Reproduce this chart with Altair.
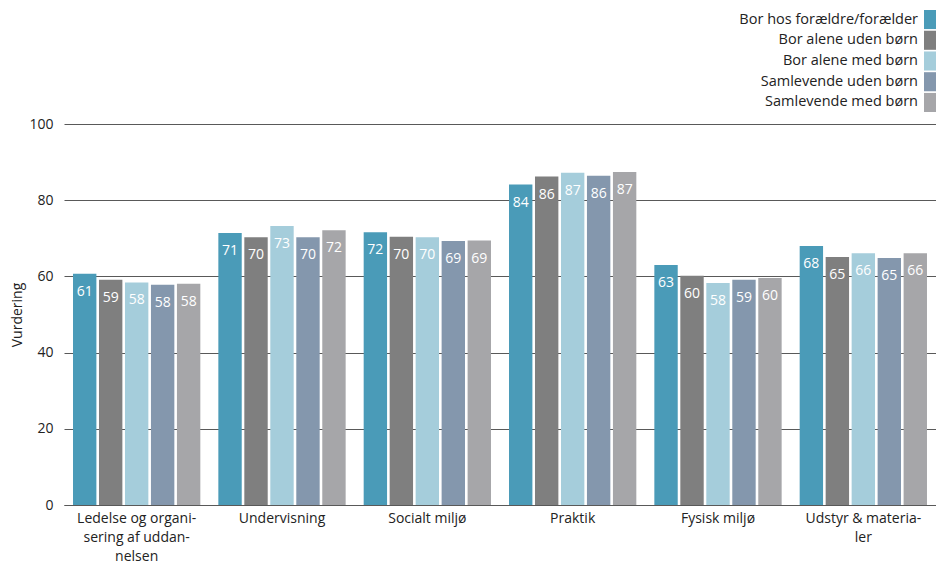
import json
import altair as alt
import pandas as pd

categories = ["Ledelse og organisering af uddannelsen", "Undervisning", "Socialt miljø",
              "Praktik", "Fysisk miljø", "Udstyr & materialer"]
series = ["Bor hos forældre/forælder", "Bor alene uden børn", "Bor alene med børn",
          "Samlevende uden børn", "Samlevende med børn"]
colors = ["#4a9bb8", "#7f7f7f", "#a5cddb", "#8497ad", "#a6a6a9"]

v_foraeldre = [60.7, 71.4, 71.6, 84.1, 63.0, 68.0]
v_alene_uden = [59.1, 70.3, 70.4, 86.2, 60.2, 65.1]
v_alene_med = [58.4, 73.2, 70.3, 87.2, 58.3, 66.1]
v_saml_uden = [57.8, 70.3, 69.3, 86.4, 59.1, 64.8]
v_saml_med = [58.1, 72.1, 69.4, 87.4, 59.6, 66.1]

wrapped = {
    "Ledelse og organisering af uddannelsen": ["Ledelse og organi-", "sering af uddan-", "nelsen"],
    "Udstyr & materialer": ["Udstyr & materia-", "ler"],
}
y_ticks = [0, 20, 40, 60, 80, 100]

FONT = "Open Sans"
PLOT_W = 872
rows = []
for s, vals in zip(series, [v_foraeldre, v_alene_uden, v_alene_med, v_saml_uden, v_saml_med]):
    for c, v in zip(categories, vals):
        rows.append({"kategori": c, "serie": s, "vurdering": v, "label": str(int(round(v)))})
df = pd.DataFrame(rows)

label_expr = "datum.label"
for k, lines in wrapped.items():
    label_expr = f"datum.value == {json.dumps(k, ensure_ascii=False)} ? {json.dumps(lines, ensure_ascii=False)} : " + label_expr

color_scale = alt.Scale(domain=series, range=colors)

base = alt.Chart(df).encode(
    x=alt.X("kategori:N", sort=categories,
            scale=alt.Scale(paddingInner=0.124, paddingOuter=0.062),
            axis=alt.Axis(title=None, labelExpr=label_expr, labelAngle=0, ticks=False,
                          domain=True, domainColor="#595959", labelFontSize=14,
                          labelPadding=6, labelLineHeight=19, labelColor="#222222",
                          labelBaseline="top")),
    xOffset=alt.XOffset("serie:N", sort=series, scale=alt.Scale(paddingInner=0.1)),
)

bars = base.mark_bar().encode(
    y=alt.Y("vurdering:Q", scale=alt.Scale(domain=[0, 100]),
            axis=alt.Axis(values=y_ticks, title="Vurdering", grid=True, gridColor="#595959",
                          domain=False, ticks=False, labelPadding=11, labelFontSize=14,
                          labelColor="#222222", titleFontSize=14, titleFontWeight="normal",
                          titleColor="#222222", titlePadding=4)),
    color=alt.Color("serie:N", sort=series, scale=color_scale, legend=None),
)

labels = base.mark_text(baseline="middle", dy=18, color="white", fontSize=14, font=FONT).encode(
    y="vurdering:Q", text="label:N")

main = alt.layer(bars, labels).properties(width=PLOT_W, height=381)

leg_df = pd.DataFrame({"serie": series})
lbase = alt.Chart(leg_df).encode(
    y=alt.Y("serie:N", sort=series, axis=None, scale=alt.Scale(paddingInner=0.08, paddingOuter=0)))
lrect = lbase.mark_rect().encode(x=alt.value(PLOT_W - 12), x2=alt.value(PLOT_W),
                                 color=alt.Color("serie:N", scale=color_scale, legend=None))
ltext = lbase.mark_text(align="right", baseline="middle", fontSize=14.5, font=FONT,
                        color="#222222").encode(x=alt.value(PLOT_W - 18), text="serie:N")
legend = alt.layer(lrect, ltext).properties(width=PLOT_W, height=102)

chart = alt.vconcat(legend, main, spacing=12, bounds="flush").properties(
    padding={"top": 2, "left": 2, "right": 0, "bottom": 0}
).configure(font=FONT).configure_view(strokeWidth=0, stroke=None)

chart.save("out.html", embed_options={"renderer": "svg", "actions": False})
